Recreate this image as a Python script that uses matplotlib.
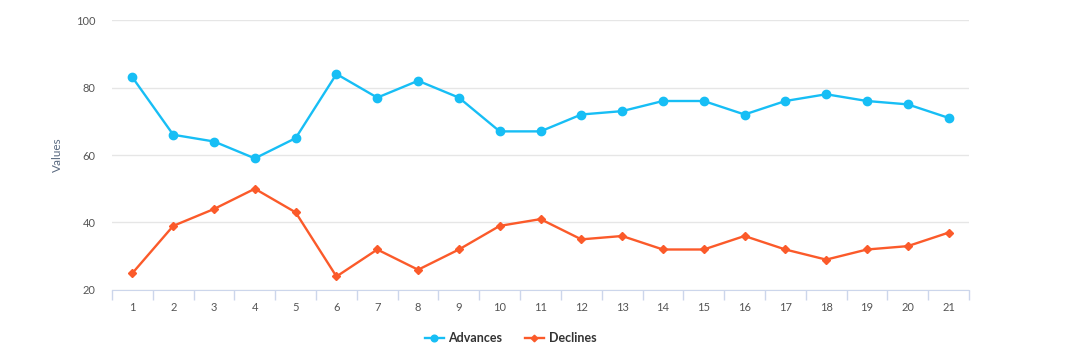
import numpy as np
from matplotlib import pyplot as plt
from matplotlib.ticker import FixedLocator

categories = [str(i) for i in range(1, 22)]
advances = [83, 66, 64, 59, 65, 84, 77, 82, 77, 67, 67, 72, 73, 76, 76, 72, 76, 78, 76, 75, 71]
declines = [25, 39, 44, 50, 43, 24, 32, 26, 32, 39, 41, 35, 36, 32, 32, 36, 32, 29, 32, 33, 37]

plt.rcParams['font.family'] = ['Lato', 'DejaVu Sans']

fig = plt.figure(figsize=(10.75, 3.56), dpi=100)
ax = fig.add_axes([0.1042, 0.1854, 0.7972, 0.7584])

x = np.arange(len(categories))
ax.plot(x, advances, color='#17bef5', lw=1.7, marker='o', ms=6, label='Advances', zorder=3)
ax.plot(x, declines, color='#fb5a2a', lw=1.7, marker='D', ms=4.2, label='Declines', zorder=3)

ax.set_xlim(-0.5, len(categories) - 0.5)
ax.set_ylim(20, 100)
ax.set_yticks([20, 40, 60, 80, 100])
ax.set_xticks(x)
ax.set_xticklabels(categories)
ax.xaxis.set_minor_locator(FixedLocator(np.arange(-0.5, len(categories), 1)))
ax.tick_params(axis='x', which='major', length=0, pad=9, labelsize=8, labelcolor='#555555')
ax.tick_params(axis='x', which='minor', length=7.5, color='#ccd6eb', width=1)
ax.tick_params(axis='y', length=0, pad=12, labelsize=8, labelcolor='#555555')
ax.grid(axis='y', color='#e6e6e6', lw=1)
ax.set_axisbelow(True)
for s in ['top', 'right', 'left']:
    ax.spines[s].set_visible(False)
ax.spines['bottom'].set_color('#ccd6eb')
ax.set_ylabel('Values', fontsize=8.5, color='#5a6a80', labelpad=9)

leg = fig.legend(loc='center', bbox_to_anchor=(0.475, 0.05), ncol=2, frameon=False,
                 prop={'weight': 'bold', 'size': 9}, handlelength=1.5, columnspacing=1.8,
                 handletextpad=0.4, markerscale=0.8)
for t in leg.get_texts():
    t.set_color('#333333')

plt.savefig('out.png', dpi=100)
